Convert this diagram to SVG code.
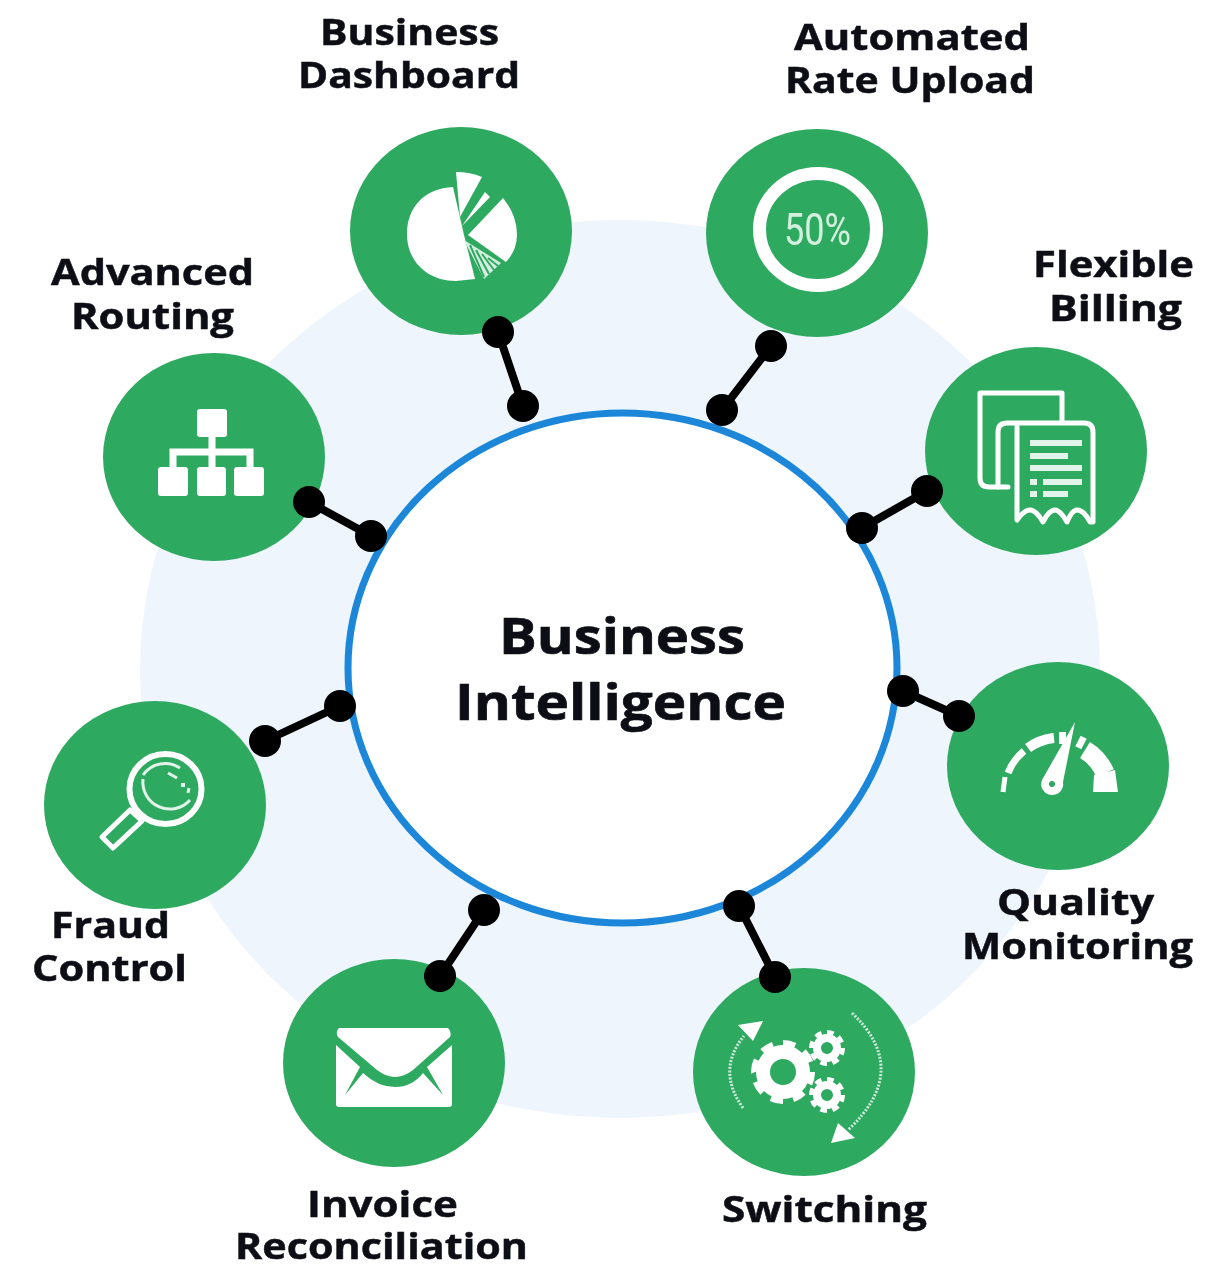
<svg xmlns="http://www.w3.org/2000/svg" width="1219" height="1265" viewBox="0 0 1219 1265">
<style>
.disc{fill:#2fa961}
.lbl{font-family:"Open Sans","Liberation Sans",sans-serif;font-weight:700;font-size:36px;fill:#0e1116;stroke:#0e1116;stroke-width:.5}
.big{font-size:51px;stroke-width:.7}
.w{fill:#fff}
.o{fill:none;stroke:#fff;stroke-width:5;stroke-linejoin:round;stroke-linecap:round}
.s{fill:none;stroke:#e2f3e9;stroke-width:6}
.g{fill:#2fa961}
.wire{stroke:#000;stroke-width:8;fill:none}
.dot{fill:#000}
.arc{fill:none;stroke:#fff}
.dash{fill:none;stroke:#cfeadb;stroke-width:3;stroke-dasharray:2 1.500}
</style>
<defs><filter id="soft" x="0" y="0" width="100%" height="100%"><feGaussianBlur stdDeviation="0.7"/></filter></defs>
<rect width="1219" height="1265" fill="#fff"/>
<g filter="url(#soft)">
<ellipse id="backdrop" cx="620" cy="669" rx="480" ry="449" fill="#eef5fc"/>
<g id="hub">
<ellipse cx="622.500" cy="668" rx="274.500" ry="255" fill="#fff" stroke="#1a87d9" stroke-width="7"/>
<text class="lbl big" x="499" y="654" textLength="246" lengthAdjust="spacingAndGlyphs">Business</text>
<text class="lbl big" x="455" y="720" textLength="331" lengthAdjust="spacingAndGlyphs">Intelligence</text>
</g>
<g id="node-dashboard">
<ellipse class="disc" cx="461" cy="231" rx="111" ry="104"/>
<path class="w" d="M453 187C425 188 407 207 407 234C407 262 428 281 456 281L475 279L464 235Z"/>
<path class="w" d="M460 217L456 172Q470 172 482 177Z"/>
<path class="w" d="M462 226L485 192L490 197Z"/>
<path class="w" d="M468 235L503 198Q517 215 517 235Q517 250 506 262Z"/>
<path d="M464 240L501 263L484 279Z" fill="#d6eee0"/>
<path d="M470 245L484 277M476 250L489 274M482 254L494 270M488 258L498 266" stroke="#2fa961" stroke-width="2" fill="none"/>
<text class="lbl" x="320" y="45" textLength="179" lengthAdjust="spacingAndGlyphs">Business</text>
<text class="lbl" x="298" y="88" textLength="222" lengthAdjust="spacingAndGlyphs">Dashboard</text>
</g>
<g id="node-rate">
<ellipse class="disc" cx="817" cy="233" rx="111" ry="104"/>
<ellipse cx="818" cy="229.500" rx="58.500" ry="56" fill="none" stroke="#fff" stroke-width="13"/>
<text x="784" y="245" font-family="Roboto,'Liberation Sans',sans-serif" font-size="44" fill="#d5efdf" textLength="67" lengthAdjust="spacingAndGlyphs">50%</text>
<text class="lbl" x="794" y="50" textLength="236" lengthAdjust="spacingAndGlyphs">Automated</text>
<text class="lbl" x="785" y="93" textLength="250" lengthAdjust="spacingAndGlyphs">Rate Upload</text>
</g>
<g id="node-billing">
<ellipse class="disc" cx="1036" cy="451" rx="111" ry="104"/>
<path class="o" d="M1062 422V393H980V478Q980 487 989 487H1008"/>
<path class="o" d="M998 487V432Q998 423 1007 423H1084Q1093 423 1093 432V522H1090Q1084 510 1077 510Q1072 510 1067 522Q1060 510 1055 510Q1049 510 1043 522Q1036 510 1030 510Q1024 510 1017 520V427"/>
<path class="s" d="M1030 443H1082M1030 456H1068M1030 468H1082M1030 482H1037M1043 482H1082M1030 494H1037M1043 494H1068"/>
<text class="lbl" x="1033" y="277" textLength="161" lengthAdjust="spacingAndGlyphs">Flexible</text>
<text class="lbl" x="1049" y="321" textLength="133" lengthAdjust="spacingAndGlyphs">Billing</text>
</g>
<g id="node-routing">
<ellipse class="disc" cx="214" cy="457" rx="111" ry="104"/>
<rect class="w" x="197" y="409" width="30" height="28" rx="3"/>
<rect class="w" x="158" y="467" width="30" height="29" rx="3"/>
<rect class="w" x="197" y="467" width="29" height="29" rx="3"/>
<rect class="w" x="234" y="467" width="30" height="29" rx="3"/>
<path d="M212 437V467M173 467V452H250V467" fill="none" stroke="#fff" stroke-width="7"/>
<text class="lbl" x="51" y="285" textLength="203" lengthAdjust="spacingAndGlyphs">Advanced</text>
<text class="lbl" x="71" y="329" textLength="163" lengthAdjust="spacingAndGlyphs">Routing</text>
</g>
<g id="node-quality">
<ellipse class="disc" cx="1058" cy="766" rx="111" ry="104"/>
<path class="arc" stroke-width="5" d="M1003 792L1005 777"/>
<path class="arc" stroke-width="7" d="M1008 773A54 54 0 0 1 1024 751"/>
<path class="arc" stroke-width="10" d="M1028 748A54 54 0 0 1 1054 738"/>
<path class="arc" stroke-width="12" d="M1059 738L1066 738"/>
<path class="arc" stroke-width="12" d="M1078 741L1084 744"/>
<path class="arc" stroke-width="19" d="M1085 750A50 50 0 0 1 1105 773"/>
<path class="w" d="M1093 792H1118L1115 770L1094 775Z"/>
<path class="w" d="M1042 780L1075 722L1063 782A11 11 0 1 1 1042 780Z"/>
<circle class="g" cx="1052" cy="784" r="3"/>
<text class="lbl" x="997" y="915" textLength="157" lengthAdjust="spacingAndGlyphs">Quality</text>
<text class="lbl" x="962" y="959" textLength="231" lengthAdjust="spacingAndGlyphs">Monitoring</text>
</g>
<g id="node-switching">
<ellipse class="disc" cx="804" cy="1072" rx="111" ry="104"/>
<circle cx="783" cy="1072" r="20" fill="none" stroke="#fff" stroke-width="14"/>
<circle cx="783" cy="1072" r="28" fill="none" stroke="#fff" stroke-width="8" pathLength="16" stroke-dasharray="1.100 .9"/>
<circle cx="827" cy="1048" r="10" fill="none" stroke="#fff" stroke-width="8"/>
<circle cx="827" cy="1048" r="15" fill="none" stroke="#fff" stroke-width="6" pathLength="16" stroke-dasharray="1.100 .9"/>
<circle cx="827" cy="1095" r="10" fill="none" stroke="#fff" stroke-width="8"/>
<circle cx="827" cy="1095" r="15" fill="none" stroke="#fff" stroke-width="6" pathLength="16" stroke-dasharray="1.100 .9"/>
<path class="dash" d="M743 1108Q716 1070 744 1036"/>
<path class="w" d="M738 1025L763 1021L753 1041Z"/>
<path class="dash" d="M852 1013Q912 1070 848 1130"/>
<path class="w" d="M838 1123L855 1138L831 1143Z"/>
<text class="lbl" x="722" y="1222" textLength="205" lengthAdjust="spacingAndGlyphs">Switching</text>
</g>
<g id="node-invoice">
<ellipse class="disc" cx="394" cy="1063" rx="111" ry="104"/>
<path class="w" d="M339 1028H448Q452 1032 450 1037L413 1070Q395 1084 377 1070L338 1037Q335 1032 339 1028Z"/>
<path class="w" d="M336 1045L360 1067L345 1095L363 1073Q378 1087 395 1087Q412 1087 423 1073L443 1095L427 1067L452 1045V1104Q452 1107 449 1107H339Q336 1107 336 1104Z"/>
<text class="lbl" x="307" y="1217" textLength="151" lengthAdjust="spacingAndGlyphs">Invoice</text>
<text class="lbl" x="235" y="1259" textLength="293" lengthAdjust="spacingAndGlyphs">Reconciliation</text>
</g>
<g id="node-fraud">
<ellipse class="disc" cx="155" cy="805" rx="111" ry="104"/>
<ellipse cx="165.500" cy="789" rx="36" ry="35" fill="none" stroke="#fff" stroke-width="6"/>
<path d="M143 779A27 27 0 0 0 190 800M180 768A27 27 0 0 0 143 775M189 788L188 793" fill="none" stroke="#e2f3e9" stroke-width="3"/>
<path class="o" stroke-width="6" d="M130 810L142 821L113 848L102 837Z"/>
<path d="M168 773L177 778" stroke="#e2f3e9" stroke-width="3"/>
<rect x="181" y="783" width="4" height="4" fill="#e2f3e9"/>
<text class="lbl" x="51" y="938" textLength="119" lengthAdjust="spacingAndGlyphs">Fraud</text>
<text class="lbl" x="32" y="981" textLength="155" lengthAdjust="spacingAndGlyphs">Control</text>
</g>
<g id="connectors">
<path class="wire" d="M498 332L523 406M771 346L722 410M927 491L862 528M903 691L959 716M739 906L775 977M484 910L440 976M340 706L265 741M309 502L371 536"/>
<g class="dot">
<circle cx="498" cy="332" r="16"/><circle cx="523" cy="406" r="16"/>
<circle cx="771" cy="346" r="16"/><circle cx="722" cy="410" r="16"/>
<circle cx="927" cy="491" r="16"/><circle cx="862" cy="528" r="16"/>
<circle cx="903" cy="691" r="16"/><circle cx="959" cy="716" r="16"/>
<circle cx="739" cy="906" r="16"/><circle cx="775" cy="977" r="16"/>
<circle cx="484" cy="910" r="16"/><circle cx="440" cy="976" r="16"/>
<circle cx="340" cy="706" r="16"/><circle cx="265" cy="741" r="16"/>
<circle cx="309" cy="502" r="16"/><circle cx="371" cy="536" r="16"/>
</g>
</g>
</g>
</svg>
